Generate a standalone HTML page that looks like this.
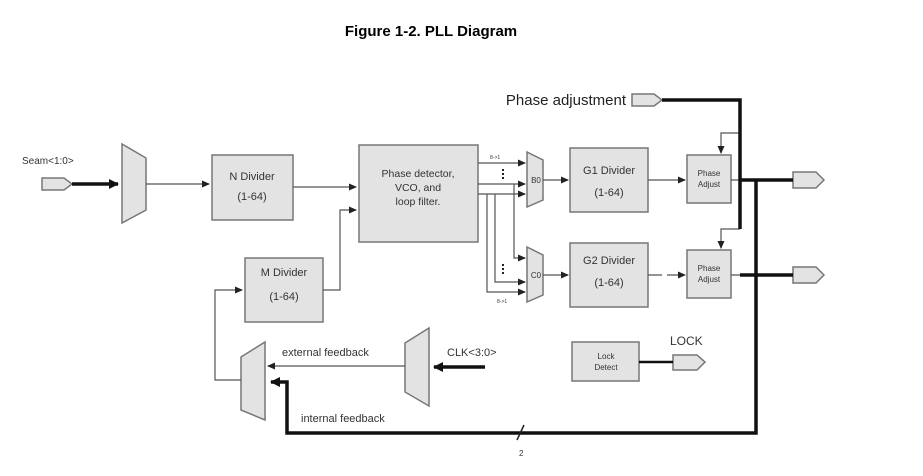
<!DOCTYPE html>
<html><head><style>
body{margin:0;background:#fff;}
svg{display:block;}
text{font-family:"Liberation Sans",sans-serif;fill:#333;}
</style></head><body>
<svg width="923" height="476" viewBox="0 0 923 476" xmlns="http://www.w3.org/2000/svg">
<defs>
<marker id="a" markerWidth="8" markerHeight="8" refX="7" refY="4" orient="auto" markerUnits="userSpaceOnUse"><path d="M0,0.5 L8,4 L0,7.5 Z" fill="#222"/></marker>
<marker id="b" markerWidth="10" markerHeight="10" refX="9" refY="5" orient="auto" markerUnits="userSpaceOnUse"><path d="M0,0 L10,5 L0,10 Z" fill="#111"/></marker>
</defs>
<text x="431" y="36" text-anchor="middle" font-weight="bold" font-size="15" style="fill:#000">Figure 1-2. PLL Diagram</text>

<g fill="#e3e3e3" stroke="#777" stroke-width="1.5">
<path d="M42,178 H64 L72,184 L64,190 H42 Z"/>
<path d="M632,94 H654 L662,100 L654,106 H632 Z"/>
<path d="M793,172 H816 L824,180 L816,188 H793 Z"/>
<path d="M793,267 H816 L824,275 L816,283 H793 Z"/>
<path d="M673,355 H697 L705,362 L697,370 H673 Z"/>
<path d="M122,144 L146,158 L146,210 L122,223 Z"/>
<path d="M241,357 L265,342 L265,420 L241,410 Z"/>
<path d="M405,343 L429,328 L429,406 L405,392 Z"/>
<path d="M527,152 L543,160 L543,200 L527,207 Z"/>
<path d="M527,247 L543,255 L543,295 L527,302 Z"/>
<rect x="212" y="155" width="81" height="65"/>
<rect x="359" y="145" width="119" height="97"/>
<rect x="245" y="258" width="78" height="64"/>
<rect x="570" y="148" width="78" height="64"/>
<rect x="570" y="243" width="78" height="64"/>
<rect x="687" y="155" width="44" height="48"/>
<rect x="687" y="250" width="44" height="48"/>
<rect x="572" y="342" width="67" height="39"/>
</g>

<g stroke="#555" stroke-width="1.2" fill="none">
<path d="M146,184 H209" marker-end="url(#a)"/>
<path d="M293,187 H356" marker-end="url(#a)"/>
<path d="M323,290 H340 V210 H356" marker-end="url(#a)"/>
<path d="M241,380 H215 V290 H242" marker-end="url(#a)"/>
<path d="M405,366 H268" marker-end="url(#a)"/>
<path d="M478,163 H525" marker-end="url(#a)"/>
<path d="M478,184 H525" marker-end="url(#a)"/>
<path d="M478,194 H525" marker-end="url(#a)"/>
<path d="M514,184 V258 H525" marker-end="url(#a)"/>
<path d="M495,194 V282 H525" marker-end="url(#a)"/>
<path d="M487,194 V292 H525" marker-end="url(#a)"/>
<path d="M543,180 H568" marker-end="url(#a)"/>
<path d="M543,275 H568" marker-end="url(#a)"/>
<path d="M648,180 H685" marker-end="url(#a)"/>
<path d="M648,275 H685" marker-end="url(#a)" stroke-dasharray="14,5"/>
<path d="M740,133 H721 V153" marker-end="url(#a)"/>
<path d="M740,229 H721 V248" marker-end="url(#a)"/>
<path d="M731,180 H793"/>
<path d="M731,275 H793"/>
</g>
<g stroke="#111" stroke-width="3.5" fill="none">
<path d="M72,184 H118" marker-end="url(#b)"/>
<path d="M662,100 H740 V229"/>
<path d="M756,180 V433 H287 V382 H271" marker-end="url(#b)"/>
<path d="M485,367 H434" marker-end="url(#b)"/>
<path d="M740,180 H793 M740,275 H793"/>
<path d="M639,362 H673" stroke-width="2.5"/>
</g>
<path d="M517,440 L524,425" stroke="#222" stroke-width="1.5"/>
<text x="519" y="456" font-size="8">2</text>

<g font-size="11" text-anchor="middle">
<text x="252" y="180">N Divider</text><text x="252" y="200">(1-64)</text>
<text x="284" y="276">M Divider</text><text x="284" y="300">(1-64)</text>
<text x="609" y="174">G1 Divider</text><text x="609" y="196">(1-64)</text>
<text x="609" y="264">G2 Divider</text><text x="609" y="286">(1-64)</text>
<text x="418" y="177" font-size="10.5">Phase detector,</text>
<text x="418" y="191" font-size="10.5">VCO, and</text>
<text x="418" y="205" font-size="10.5">loop filter.</text>
<text x="709" y="176" font-size="8">Phase</text><text x="709" y="187" font-size="8">Adjust</text>
<text x="709" y="271" font-size="8">Phase</text><text x="709" y="282" font-size="8">Adjust</text>
<text x="606" y="359" font-size="8">Lock</text><text x="606" y="370" font-size="8">Detect</text>
<text x="536" y="183" font-size="8">B0</text>
<text x="536" y="278" font-size="8">C0</text>
</g>
<text x="22" y="164" font-size="10">Seam&lt;1:0&gt;</text>
<text x="626" y="105" font-size="15" text-anchor="end" style="fill:#222">Phase adjustment</text>
<text x="447" y="356" font-size="11">CLK&lt;3:0&gt;</text>
<text x="282" y="356" font-size="11">external feedback</text>
<text x="301" y="422" font-size="11">internal feedback</text>
<text x="670" y="345" font-size="12">LOCK</text>
<text x="490" y="159" font-size="5">8-&gt;1</text>
<text x="497" y="303" font-size="5">8-&gt;1</text>
<g fill="#222"><rect x="502" y="169" width="2" height="2"/><rect x="502" y="173" width="2" height="2"/><rect x="502" y="177" width="2" height="2"/>
<rect x="502" y="264" width="2" height="2"/><rect x="502" y="268" width="2" height="2"/><rect x="502" y="272" width="2" height="2"/></g>
</svg>
</body></html>
